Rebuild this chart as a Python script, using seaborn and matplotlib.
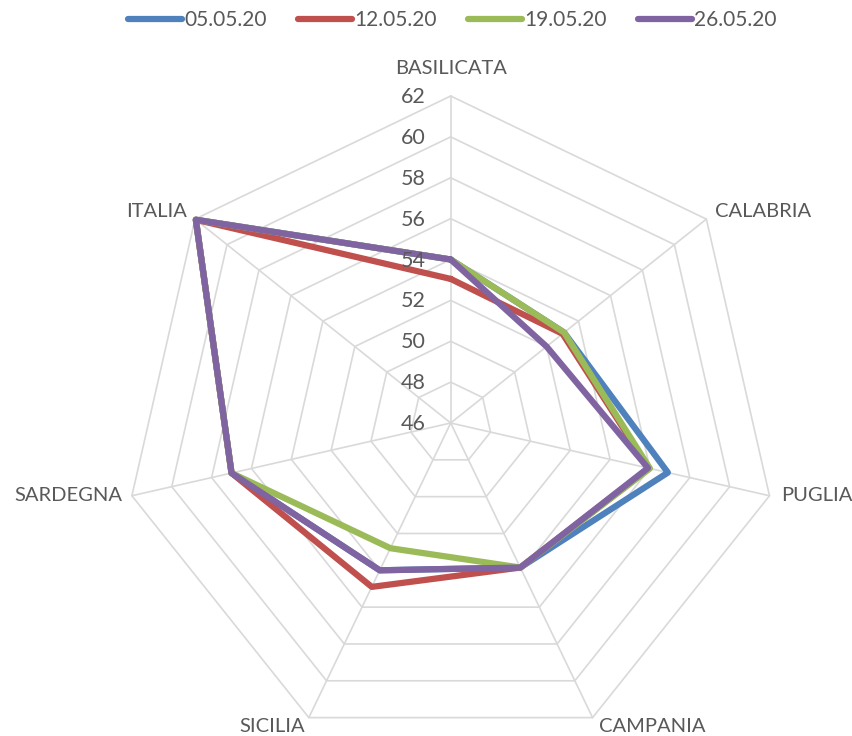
import numpy as np
import pandas as pd
import seaborn as sns
import matplotlib.pyplot as plt

# Chart data
categories = ["BASILICATA", "CALABRIA", "PUGLIA", "CAMPANIA", "SICILIA", "SARDEGNA", "ITALIA"]
dates = ["05.05.20", "12.05.20", "19.05.20", "26.05.20"]
values_0505 = [54.0, 53.1, 56.9, 53.85, 54.0, 57.0, 61.95]
values_1205 = [53.05, 53.0, 55.95, 53.85, 54.9, 57.0, 61.95]
values_1905 = [54.0, 53.1, 56.0, 53.85, 52.8, 57.0, 61.95]
values_2605 = [54.0, 52.0, 55.9, 53.85, 54.0, 57.0, 61.95]
rings = [46, 48, 50, 52, 54, 56, 58, 60, 62]

colors = ["#4F81BD", "#C0504D", "#9BBB59", "#8064A2"]
text_color = "#595959"
grid_color = "#D9D9D9"


def main():
    sns.set_style("white")
    plt.rcParams["font.family"] = ["Lato", "DejaVu Sans"]

    n = len(categories)
    angles = np.arange(n) * 2 * np.pi / n
    closed = np.append(angles, angles[0])

    # Long-form table, each series closed back on its first point
    rows = []
    for date, vals in zip(dates, [values_0505, values_1205, values_1905, values_2605]):
        for a, v in zip(closed, vals + vals[:1]):
            rows.append({"theta": a, "value": v, "date": date})
    df = pd.DataFrame(rows)

    fig = plt.figure(figsize=(8.52, 7.36), dpi=100)
    # Square polar box centred at (450, 423) px with radius 327 px
    ax = fig.add_axes([123.7 / 852, (313 - 327) / 736, 654 / 852, 654 / 736],
                      projection="polar")
    ax.set_theta_zero_location("N")
    ax.set_theta_direction(-1)
    ax.set_ylim(rings[0], rings[-1])
    ax.grid(False)
    ax.spines["polar"].set_visible(False)
    ax.patch.set_visible(False)

    # Heptagon grid and spokes
    for r in rings[1:]:
        ax.plot(closed, [r] * len(closed), color=grid_color, lw=1.2, zorder=0)
    for a in angles:
        ax.plot([a, a], [rings[0], rings[-1]], color=grid_color, lw=1.2, zorder=0)

    sns.lineplot(data=df, x="theta", y="value", hue="date", palette=colors,
                 sort=False, estimator=None, linewidth=4.5, ax=ax, legend=True)
    for line in ax.lines:
        line.set_clip_on(False)

    ax.set_xticks([])
    ax.set_yticks([])
    ax.set_xlabel("")
    ax.set_ylabel("")

    # Value labels along the top spoke
    for r in rings:
        ax.annotate(str(r), xy=(0, r), xytext=(-25, -1), textcoords="offset pixels",
                    ha="right", va="center", fontsize=15.5, color=text_color,
                    annotation_clip=False)

    # Category labels round the outside
    offsets = [(0, 28, "center"), (9, 8, "left"), (12, 0, "left"), (6, -9, "left"),
               (-4, -9, "right"), (-10, 0, "right"), (-8, 8, "right")]
    for a, name, (dx, dy, ha) in zip(angles, categories, offsets):
        ax.annotate(name, xy=(a, rings[-1]), xytext=(dx, dy), textcoords="offset pixels",
                    ha=ha, va="center", fontsize=14.5, color=text_color,
                    annotation_clip=False)

    # Legend on top
    handles, labels = ax.get_legend_handles_labels()
    ax.get_legend().remove()
    leg = fig.legend(handles, labels, loc="center", bbox_to_anchor=(452.5 / 852, 1 - 20 / 736),
                     ncol=4, frameon=False, fontsize=15, handlelength=2.6,
                     handletextpad=0.1, columnspacing=1.5, labelcolor=text_color)
    for h in leg.get_lines():
        h.set_solid_capstyle("round")
        h.set_linewidth(4.5)

    fig.savefig("out.png", dpi=100)
    plt.close(fig)


if __name__ == "__main__":
    main()
